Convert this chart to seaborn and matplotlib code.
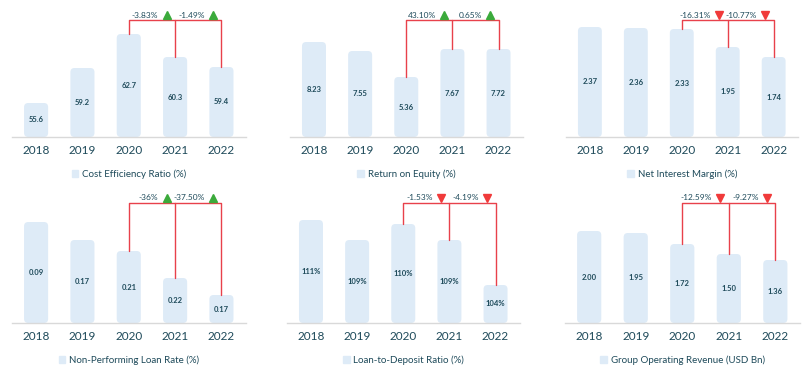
import matplotlib.pyplot as plt
import seaborn as sns
import pandas as pd
from matplotlib.patches import FancyBboxPatch, Patch

years = ["2018", "2019", "2020", "2021", "2022"]

# printed values (labels inside bars)
cer_labels = ["55.6", "59.2", "62.7", "60.3", "59.4"]
roe_labels = ["8.23", "7.55", "5.36", "7.67", "7.72"]
nim_labels = ["2.37", "2.36", "2.33", "1.95", "1.74"]
npl_labels = ["0.09", "0.17", "0.21", "0.22", "0.17"]
ldr_labels = ["111%", "109%", "110%", "109%", "104%"]
gor_labels = ["2.00", "1.95", "1.72", "1.50", "1.36"]

# drawn bar lengths (the source chart is not to scale, so read separately)
cer_heights = [34, 69, 103, 80, 70]
roe_heights = [95, 86, 60, 88, 88]
nim_heights = [110, 109, 108, 90, 80]
npl_heights = [101, 83, 72, 45, 28]
ldr_heights = [103, 83, 99, 83, 38]
gor_heights = [92, 90, 79, 69, 63]

# year-on-year change callouts (2020->2021, 2021->2022)
cer_changes = ["-3.83%", "-1.49%"]
roe_changes = ["43.10%", "0.65%"]
nim_changes = ["-16.31%", "-10.77%"]
npl_changes = ["-36%", "-37.50%"]
ldr_changes = ["-1.53%", "-4.19%"]
gor_changes = ["-12.59%", "-9.27%"]

titles = ["Cost Efficiency Ratio (%)", "Return on Equity (%)", "Net Interest Margin (%)",
          "Non-Performing Loan Rate (%)", "Loan-to-Deposit Ratio (%)", "Group Operating Revenue (USD Bn)"]
good_news = [True, True, False, True, False, False]

panels = [
    (titles[0], cer_labels, cer_heights, cer_changes, good_news[0]),
    (titles[1], roe_labels, roe_heights, roe_changes, good_news[1]),
    (titles[2], nim_labels, nim_heights, nim_changes, good_news[2]),
    (titles[3], npl_labels, npl_heights, npl_changes, good_news[3]),
    (titles[4], ldr_labels, ldr_heights, ldr_changes, good_news[4]),
    (titles[5], gor_labels, gor_heights, gor_changes, good_news[5]),
]

bar_color = "#DEEBF7"
text_color = "#1E4A5A"
line_color = "#E8414B"
up_color = "#3BAA3B"
down_color = "#F03A3A"

sns.set_theme(style="white")
plt.rcParams["font.family"] = ["Lato", "DejaVu Sans"]

fig = plt.figure(figsize=(8.08, 3.72), dpi=100)
W, H = 808, 372
# axes boxes in pixels: left, right, baseline (from top)
boxes = [(12, 246, 137), (290, 523, 137), (566, 798, 137),
         (12, 246, 323), (287, 520, 323), (565, 800, 323)]
bracket_y = [117, 117, 117, 120, 120, 120]
top = 132

for i, (title, labels, heights, changes, good) in enumerate(panels):
    l, r, base = boxes[i]
    ax = fig.add_axes([l / W, (H - base) / H, (r - l) / W, top / H])
    df = pd.DataFrame({"year": years, "h": heights})
    sns.barplot(data=df, x="year", y="h", color=bar_color, saturation=1, width=0.52, ax=ax)
    ax.set_xlim(-0.52, 4.53)
    ax.set_ylim(0, top)

    # swap plain bars for rounded ones
    for p, lab in zip(list(ax.patches), labels):
        x0, w, h = p.get_x(), p.get_width(), p.get_height()
        p.set_visible(False)
        ax.add_patch(FancyBboxPatch((x0, 0), w, h, boxstyle="round,pad=0,rounding_size=0.09",
                                    mutation_aspect=46, fc=bar_color, ec="none"))
        ax.text(x0 + w / 2, h / 2, lab, ha="center", va="center", fontsize=5.5,
                color=text_color, fontweight="bold")

    # bracket linking 2020-2021-2022
    by = bracket_y[i]
    ax.plot([2, 2, 4, 4], [heights[2], by, by, heights[4]], color=line_color, lw=1)
    ax.plot([3, 3], [heights[3], by], color=line_color, lw=1)
    ty = by + 5
    for k, ch in enumerate(changes):
        c = 3 + k
        ax.text(c - 0.36, ty, ch, ha="right", va="center", fontsize=6, color=text_color)
        ax.plot(c - 0.18, ty + 0.5, marker="^" if good else "v", ms=5.5,
                color=up_color if good else down_color, clip_on=False)

    sns.despine(ax=ax, left=True)
    ax.spines["bottom"].set_color("#D9D9D9")
    ax.spines["bottom"].set_linewidth(1)
    ax.set_yticks([])
    ax.set_xlabel("")
    ax.set_ylabel("")
    ax.tick_params(axis="x", length=0, pad=6, labelsize=8.5, labelcolor=text_color)

    ax.legend(handles=[Patch(color=bar_color, label=title)], loc="center",
              bbox_to_anchor=(0.5, -0.28), frameon=False, fontsize=7,
              handlelength=0.7, handleheight=0.7, handletextpad=0.4,
              labelcolor=text_color)

fig.savefig("out.png", dpi=100)
